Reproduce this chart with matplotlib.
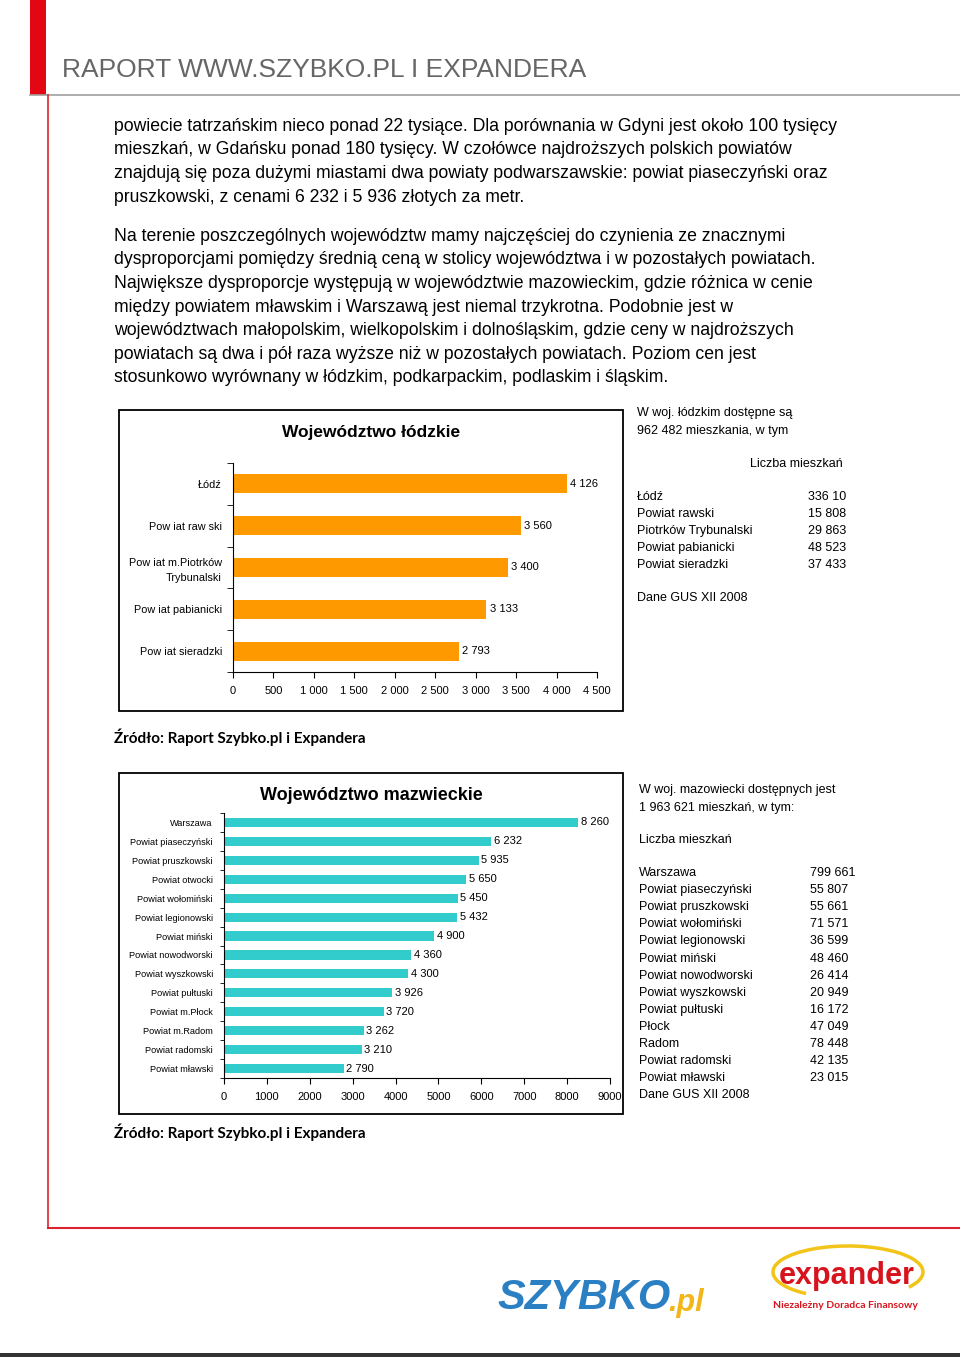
import matplotlib.pyplot as plt
from matplotlib.patches import Rectangle, Arc
from matplotlib.lines import Line2D
from matplotlib.ticker import FixedLocator

W, H = 960, 1357

# --- data ---
lodz_names = ['Łódź', 'Pow iat raw ski', 'Pow iat m.Piotrków\nTrybunalski',
              'Pow iat pabianicki', 'Pow iat sieradzki']
lodz_prices = [4126, 3560, 3400, 3133, 2793]
lodz_ticks = [0, 500, 1000, 1500, 2000, 2500, 3000, 3500, 4000, 4500]

maz_names = ['Warszawa', 'Powiat piaseczyński', 'Powiat pruszkowski', 'Powiat otwocki',
             'Powiat wołomiński', 'Powiat legionowski', 'Powiat miński',
             'Powiat nowodworski', 'Powiat wyszkowski', 'Powiat pułtuski',
             'Powiat m.Płock', 'Powiat m.Radom', 'Powiat radomski', 'Powiat mławski']
maz_prices = [8260, 6232, 5935, 5650, 5450, 5432, 4900, 4360, 4300, 3926, 3720,
              3262, 3210, 2790]
maz_ticks = [0, 1000, 2000, 3000, 4000, 5000, 6000, 7000, 8000, 9000]

lodz_flat_names = ['Łódź', 'Powiat rawski', 'Piotrków Trybunalski',
                   'Powiat pabianicki', 'Powiat sieradzki']
lodz_flat_counts = ['336 10', '15 808', '29 863', '48 523', '37 433']

maz_flat_names = ['Warszawa', 'Powiat piaseczyński', 'Powiat pruszkowski',
                  'Powiat wołomiński', 'Powiat legionowski', 'Powiat miński',
                  'Powiat nowodworski', 'Powiat wyszkowski', 'Powiat pułtuski',
                  'Płock', 'Radom', 'Powiat radomski', 'Powiat mławski']
maz_flat_counts = ['799 661', '55 807', '55 661', '71 571', '36 599', '48 460',
                   '26 414', '20 949', '16 172', '47 049', '78 448', '42 135',
                   '23 015']

para1 = ['powiecie tatrzańskim nieco ponad 22 tysiące. Dla porównania w Gdyni jest około 100 tysięcy',
         'mieszkań, w Gdańsku ponad 180 tysięcy. W czołówce najdroższych polskich powiatów',
         'znajdują się poza dużymi miastami dwa powiaty podwarszawskie: powiat piaseczyński oraz',
         'pruszkowski, z cenami 6 232 i 5 936 złotych za metr.']
para2 = ['Na terenie poszczególnych województw mamy najczęściej do czynienia ze znacznymi',
         'dysproporcjami pomiędzy średnią ceną w stolicy województwa i w pozostałych powiatach.',
         'Największe dysproporcje występują w województwie mazowieckim, gdzie różnica w cenie',
         'między powiatem mławskim i Warszawą jest niemal trzykrotna. Podobnie jest w',
         'województwach małopolskim, wielkopolskim i dolnośląskim, gdzie ceny w najdroższych',
         'powiatach są dwa i pół raza wyższe niż w pozostałych powiatach. Poziom cen jest',
         'stosunkowo wyrównany w łódzkim, podkarpackim, podlaskim i śląskim.']

plt.rcParams['font.family'] = ['Liberation Sans', 'DejaVu Sans']


def fx(x):
    return x / W


def fy(y):
    return 1 - y / H


def spaced(v):
    return '{:,}'.format(v).replace(',', ' ')


fig = plt.figure(figsize=(9.6, 13.57), dpi=100)

# page decoration
fig.add_artist(Rectangle((fx(30), fy(95)), 16 / W, 95 / H, color='#e30613', lw=0))
fig.add_artist(Line2D([fx(30), fx(960)], [fy(95), fy(95)], color='#a0a0a0', lw=1.2))
fig.add_artist(Line2D([fx(47.5), fx(47.5)], [fy(95), fy(1228)], color='#d9242f', lw=1.2))
fig.add_artist(Line2D([fx(47.5), fx(960)], [fy(1228), fy(1228)], color='#d9242f', lw=1.5))
fig.add_artist(Rectangle((0, 0), 1, 4 / H, color='#333333', lw=0))

fig.text(fx(62), fy(70), 'RAPORT WWW.SZYBKO.PL I EXPANDERA', fontsize=19,
         color='#666666', va='center', ha='left')

# body text
for i, line in enumerate(para1):
    fig.text(fx(114), fy(126.5 + i * 23.5), line, fontsize=12.7, va='center')
for i, line in enumerate(para2):
    fig.text(fx(114), fy(236.5 + i * 23.5), line, fontsize=12.7, va='center')

# ---------- chart 1: lodzkie ----------
fig.add_artist(Rectangle((fx(119), fy(711)), (623 - 119) / W, (711 - 410) / H,
                         fill=False, ec='black', lw=1.3))
fig.text(fx(371), fy(432), 'Województwo łódzkie', fontsize=12.5, fontweight='bold',
         ha='center', va='center')

ax1 = fig.add_axes([fx(233), fy(672), (597 - 233) / W, (672 - 463) / H])
y1 = list(range(len(lodz_names)))
ax1.barh(y1, lodz_prices, height=0.45, color='#ff9900')
for y, v in zip(y1, lodz_prices):
    ax1.text(v + 40, y, spaced(v), fontsize=8, va='center', ha='left')
ax1.set_xlim(0, 4500)
ax1.set_ylim(len(lodz_names) - 0.5, -0.5)
ax1.set_xticks(lodz_ticks)
ax1.set_xticklabels([spaced(t) for t in lodz_ticks], fontsize=8)
ax1.set_yticks(y1)
ax1.set_yticklabels(lodz_names, fontsize=7.8, linespacing=1.6)
ax1.yaxis.set_minor_locator(FixedLocator([i - 0.5 for i in range(len(lodz_names) + 1)]))
ax1.tick_params(axis='y', which='major', length=0, pad=8)
ax1.tick_params(axis='y', which='minor', length=4, direction='out')
ax1.tick_params(axis='x', length=4, direction='out', pad=6)
for s in ['top', 'right']:
    ax1.spines[s].set_visible(False)
ax1.patch.set_alpha(0)

side1_top = ['W woj. łódzkim dostępne są', '962 482 mieszkania, w tym']
for i, line in enumerate(side1_top):
    fig.text(fx(637), fy(413 + i * 18), line, fontsize=9, va='center')
fig.text(fx(750), fy(464), 'Liczba mieszkań', fontsize=9, va='center')
for i, (n, c) in enumerate(zip(lodz_flat_names, lodz_flat_counts)):
    fig.text(fx(637), fy(497 + i * 17.1), n, fontsize=9, va='center')
    fig.text(fx(808), fy(497 + i * 17.1), c, fontsize=9, va='center')
fig.text(fx(637), fy(598), 'Dane GUS XII 2008', fontsize=9, va='center')

fig.text(fx(114), fy(737), 'Źródło: Raport Szybko.pl i Expandera', family=['Lato', 'DejaVu Sans'],
         fontsize=11, fontweight='bold', va='center')

# ---------- chart 2: mazowieckie ----------
fig.add_artist(Rectangle((fx(119), fy(1114)), (623 - 119) / W, (1114 - 773) / H,
                         fill=False, ec='black', lw=1.3))
fig.text(fx(371), fy(795), 'Województwo mazwieckie', fontsize=13, fontweight='bold',
         ha='center', va='center')

ax2 = fig.add_axes([fx(224), fy(1078), (610 - 224) / W, (1078 - 813) / H])
y2 = list(range(len(maz_names)))
ax2.barh(y2, maz_prices, height=0.48, color='#33cccc')
for y, v in zip(y2, maz_prices):
    ax2.text(v + 60, y, spaced(v), fontsize=8, va='center', ha='left')
ax2.set_xlim(0, 9000)
ax2.set_ylim(len(maz_names) - 0.5, -0.5)
ax2.set_xticks(maz_ticks)
ax2.set_xticklabels([str(t) for t in maz_ticks], fontsize=8)
ax2.set_yticks(y2)
ax2.set_yticklabels(maz_names, fontsize=6.6)
ax2.yaxis.set_minor_locator(FixedLocator([i - 0.5 for i in range(len(maz_names) + 1)]))
ax2.tick_params(axis='y', which='major', length=0, pad=8)
ax2.tick_params(axis='y', which='minor', length=3, direction='out')
ax2.tick_params(axis='x', length=4, direction='out', pad=6)
for s in ['top', 'right']:
    ax2.spines[s].set_visible(False)
ax2.patch.set_alpha(0)

side2_top = ['W woj. mazowiecki dostępnych jest', '1 963 621 mieszkań, w tym:']
for i, line in enumerate(side2_top):
    fig.text(fx(639), fy(790 + i * 17.5), line, fontsize=9, va='center')
fig.text(fx(639), fy(840), 'Liczba mieszkań', fontsize=9, va='center')
for i, (n, c) in enumerate(zip(maz_flat_names, maz_flat_counts)):
    fig.text(fx(639), fy(873 + i * 17.1), n, fontsize=9, va='center')
    fig.text(fx(810), fy(873 + i * 17.1), c, fontsize=9, va='center')
fig.text(fx(639), fy(1095), 'Dane GUS XII 2008', fontsize=9, va='center')

fig.text(fx(114), fy(1132), 'Źródło: Raport Szybko.pl i Expandera', family=['Lato', 'DejaVu Sans'],
         fontsize=11, fontweight='bold', va='center')

# ---------- logos ----------
fig.text(fx(497), fy(1298), 'SZYBKO', fontsize=30, fontweight='bold', style='italic',
         color='#2b7fc3', va='center', ha='left')
fig.text(fx(668), fy(1303), '.pl', fontsize=22, fontweight='bold', style='italic',
         color='#f2b619', va='center', ha='left')
fig.add_artist(Arc((fx(848), fy(1272)), 150 / W, 52 / H, theta1=-10, theta2=200,
                   color='#f2c418', lw=2.5))
fig.text(fx(847), fy(1276), 'expander', fontsize=22, fontweight='bold',
         color='#d7141e', va='center', ha='center')
fig.text(fx(845), fy(1305), 'Niezależny Doradca Finansowy', family=['Lato', 'DejaVu Sans'],
         fontsize=7.5, fontweight='bold', color='#d7141e', va='center', ha='center')

fig.savefig('out.png', dpi=100)
